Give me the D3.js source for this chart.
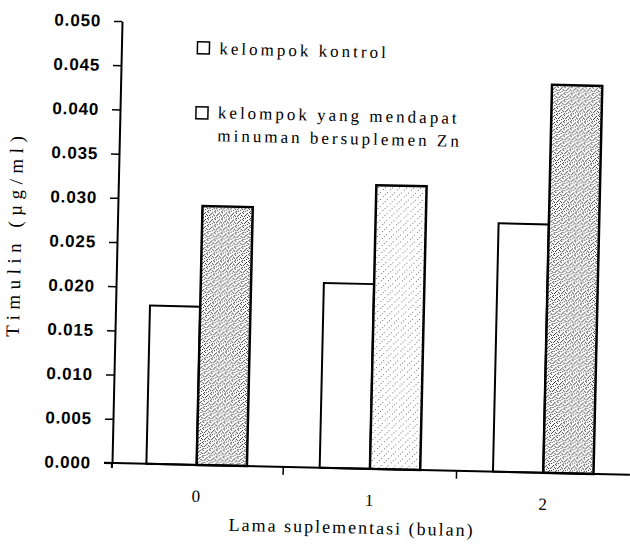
<!DOCTYPE html>
<html>
<head>
<meta charset="utf-8">
<script src="https://cdn.jsdelivr.net/npm/d3@7"></script>
<style>
  body { margin: 0; background: #fff; }
  .tick-label { font-family: "Liberation Sans", Arial, sans-serif; font-weight: bold; font-size: 17px; letter-spacing: 0.8px; }
  .serif { font-family: "Liberation Serif", "Times New Roman", serif; }
</style>
</head>
<body>
<svg id="chart" width="630" height="546"></svg>
<script>
// data
const months = ["0", "1", "2"]
const seriesNames = ["kelompok kontrol", "kelompok yang mendapat minuman bersuplemen Zn"]
const kontrol = [0.0179, 0.0209, 0.0281]
const suplemenZn = [0.0293, 0.0321, 0.0439]
const yTicks = [0, 0.005, 0.010, 0.015, 0.020, 0.025, 0.030, 0.035, 0.040, 0.045, 0.050]

const svg = d3.select("#chart")

// the scanned page sits a little crooked, so tilt the whole plot
const originX = 112, originY = 463
const g = svg.append("g").attr("transform", `rotate(1.3, ${originX}, ${originY})`)

// stipple fills for the Zn bars
const defs = svg.append("defs")
function makeStipple(id, dots, color) {
    const p = defs.append("pattern")
      .attr("id", id)
      .attr("width", 7)
      .attr("height", 7)
      .attr("patternUnits", "userSpaceOnUse")
    p.append("rect").attr("width", 7).attr("height", 7).attr("fill", "#fff")
    dots.forEach(d => {
        p.append("rect").attr("x", d[0]).attr("y", d[1]).attr("width", 1).attr("height", 1).attr("fill", color)
    })
}
makeStipple("dense", [[0,0],[3,1],[1,3],[4,4],[2,5],[5,2],[6,6],[4,0],[0,5],[6,3],[2,2]], "#333")
makeStipple("light", [[1,1],[5,4],[3,6]], "#777")
const stippleFor = ["dense", "light", "dense"]

const y = d3.scaleLinear()
    .domain([0, 0.05])
    .range([originY, 21])

const x = d3.scaleBand()
    .domain(months)
    .range([110, 630])
    .paddingInner(0.42)
    .paddingOuter(0.21)

const xSub = d3.scaleBand()
    .domain([0, 1])
    .range([0, x.bandwidth()])

// bars
const groups = g.selectAll(".group")
    .data(months)
    .enter().append("g")
      .attr("class", "group")
      .attr("transform", d => `translate(${x(d)},0)`)

groups.append("rect")
    .attr("x", xSub(0))
    .attr("y", (d, i) => y(kontrol[i]))
    .attr("width", xSub.bandwidth())
    .attr("height", (d, i) => y(0) - y(kontrol[i]))
    .attr("fill", "#fff")
    .attr("stroke", "#000")
    .attr("stroke-width", 2)

groups.append("rect")
    .attr("x", xSub(1))
    .attr("y", (d, i) => y(suplemenZn[i]))
    .attr("width", xSub.bandwidth())
    .attr("height", (d, i) => y(0) - y(suplemenZn[i]))
    .attr("fill", (d, i) => `url(#${stippleFor[i]})`)
    .attr("stroke", "#000")
    .attr("stroke-width", 2.5)

// y axis
const yAxis = g.append("g")
    .attr("transform", `translate(${originX},0)`)
    .call(d3.axisLeft(y)
        .tickValues(yTicks)
        .tickFormat(d3.format(".3f"))
        .tickSize(8)
        .tickSizeOuter(0)
        .tickPadding(13))
yAxis.select(".domain").attr("stroke-width", 2)
yAxis.selectAll(".tick line").attr("stroke-width", 1.5)
yAxis.selectAll("text").attr("class", "tick-label").attr("fill", "#000")

// axis continues a bit below the baseline, like the original
g.append("line")
    .attr("x1", originX).attr("x2", originX)
    .attr("y1", originY).attr("y2", originY + 5)
    .attr("stroke", "#000")
    .attr("stroke-width", 2)

// x axis line and the ticks between groups
g.append("line")
    .attr("x1", 104).attr("x2", 630)
    .attr("y1", originY).attr("y2", originY)
    .attr("stroke", "#000")
    .attr("stroke-width", 2)

const gap = (x.step() - x.bandwidth()) / 2
g.selectAll(".sep")
    .data(months.slice(1))
    .enter().append("line")
      .attr("x1", d => x(d) - gap)
      .attr("x2", d => x(d) - gap)
      .attr("y1", originY)
      .attr("y2", originY + 8)
      .attr("stroke", "#000")
      .attr("stroke-width", 1.5)

g.selectAll(".cat")
    .data(months)
    .enter().append("text")
      .attr("class", "serif")
      .attr("x", d => x(d) + x.bandwidth() / 2)
      .attr("y", 500)
      .attr("text-anchor", "middle")
      .attr("font-size", "17px")
      .text(d => d)

g.append("text")
    .attr("class", "serif")
    .attr("x", 353)
    .attr("y", 528)
    .attr("text-anchor", "middle")
    .attr("font-size", "18px")
    .attr("letter-spacing", "2px")
    .text("Lama suplementasi (bulan)")

g.append("text")
    .attr("class", "serif")
    .attr("transform", "translate(16,236) rotate(-90)")
    .attr("text-anchor", "middle")
    .attr("font-size", "19px")
    .attr("letter-spacing", "5.5px")
    .text("Timulin (µg/ml)")

// legend
const legendRows = [
    { box: 40, lines: [seriesNames[0]], base: 52 },
    { box: 105, lines: ["kelompok yang mendapat", "minuman bersuplemen Zn"], base: 116 }
]
legendRows.forEach(row => {
    g.append("rect")
      .attr("x", 188)
      .attr("y", row.box)
      .attr("width", 12)
      .attr("height", 12)
      .attr("fill", "#fff")
      .attr("stroke", "#000")
      .attr("stroke-width", 1.5)
    row.lines.forEach((line, k) => {
        g.append("text")
          .attr("class", "serif")
          .attr("x", 210)
          .attr("y", row.base + k * 23)
          .attr("font-size", "17px")
          .attr("letter-spacing", "3px")
          .text(line)
    })
})
</script>
</body>
</html>
